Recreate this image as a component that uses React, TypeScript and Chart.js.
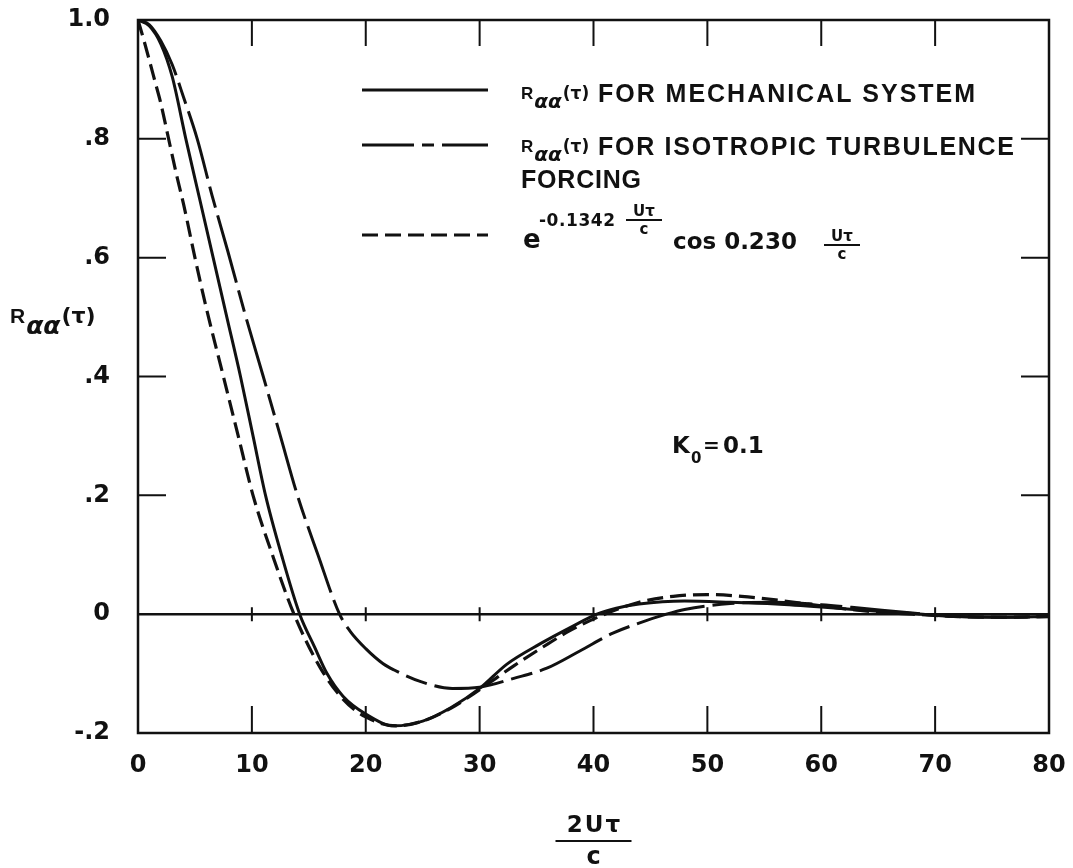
import React, { useEffect, useRef } from "react";
import { Chart, registerables } from "chart.js";

Chart.register(...registerables);

// ---- data ----
const X_TICKS = [0, 10, 20, 30, 40, 50, 60, 70, 80];
const Y_TICKS = [-0.2, 0, 0.2, 0.4, 0.6, 0.8, 1.0];
const Y_TICK_LABELS = ["-.2", "0", ".2", ".4", ".6", ".8", "1.0"];

// R_aa(tau) for mechanical system (solid)
const mechX = [0, 1, 2, 3, 4.2, 5.4, 6.6, 7.8, 9.0, 10.1, 11.2, 12.6, 14.2, 15.5, 16.6, 18, 20, 22.5, 25, 27.5, 30, 32.4, 35.3, 38.2, 40.3, 42, 44, 48, 52, 56, 60, 64, 68, 72, 76, 80];
const mechY = [1.0, 0.99, 0.96, 0.905, 0.8, 0.7, 0.6, 0.5, 0.4, 0.3, 0.2, 0.1, 0.0, -0.055, -0.1, -0.138, -0.168, -0.188, -0.18, -0.157, -0.125, -0.084, -0.05, -0.02, 0.0, 0.01, 0.017, 0.022, 0.02, 0.017, 0.012, 0.006, 0.001, -0.004, -0.005, -0.004];

// R_aa(tau) for isotropic turbulence forcing (long dash)
const isoX = [0, 1, 2, 3, 4, 5.2, 6.5, 7.9, 9.4, 11, 12.5, 14, 15.8, 17.7, 18.6, 20, 21.5, 22.5, 24.9, 27.6, 30, 33, 35.9, 38.8, 41.7, 44, 46.4, 48, 52, 56, 60, 64, 68, 72, 76, 80];
const isoY = [1.0, 0.992, 0.965, 0.925, 0.87, 0.8, 0.705, 0.61, 0.505, 0.4, 0.3, 0.2, 0.1, 0.0, -0.028, -0.058, -0.083, -0.094, -0.114, -0.125, -0.123, -0.108, -0.091, -0.062, -0.032, -0.015, 0.0, 0.008, 0.018, 0.02, 0.016, 0.009, 0.002, -0.004, -0.005, -0.004];

// exponential-cosine fit (short dash)
const fitX = [0, 0.5, 1, 1.5, 2, 2.8, 3.5, 4, 5, 6, 7.5, 8.8, 10.1, 11.8, 13.7, 16, 18, 20, 22.7, 25, 27.5, 30, 33, 36, 38, 41, 44, 47, 50, 53, 56, 60, 64, 68, 72, 76, 80];
const fitY = [1.0, 0.967, 0.932, 0.896, 0.86, 0.79, 0.73, 0.69, 0.6, 0.515, 0.4, 0.3, 0.2, 0.1, 0.0, -0.09, -0.143, -0.173, -0.188, -0.18, -0.158, -0.127, -0.087, -0.05, -0.027, 0.0, 0.02, 0.03, 0.033, 0.03, 0.024, 0.014, 0.005, 0.0, -0.004, -0.005, -0.004];

const LEGEND_MECH = "FOR MECHANICAL SYSTEM";
const LEGEND_ISO_1 = "FOR ISOTROPIC TURBULENCE";
const LEGEND_ISO_2 = "FORCING";
const FIT_EXP = "-0.1342";
const FIT_COS = "cos 0.230";
const ANNOT_K = "K";
const ANNOT_SUB = "0";
const ANNOT_EQ = "=";
const ANNOT_VAL = "0.1";

const INK = "#111";
const FONT = '"DejaVu Sans"';
const LFONT = '"Liberation Sans"';
const ISO_DASH = [70, 8, 22, 8];
const FIT_DASH = [16, 7];

const toPts = (xs: number[], ys: number[]) => xs.map((x, i) => ({ x, y: ys[i] }));

function fillFit(ctx: any, text: string, x: number, y: number, width: number) {
  ctx.letterSpacing = "0px";
  const w = ctx.measureText(text).width;
  const ls = (width - w) / Math.max(text.length - 1, 1);
  ctx.letterSpacing = `${ls}px`;
  ctx.fillText(text, x, y);
  ctx.letterSpacing = "0px";
}

// draws R with subscript alpha-alpha and (tau); rs/as/ts are font sizes
function drawRaa(ctx: CanvasRenderingContext2D, x: number, base: number, rs: number, as: number, ts: number) {
  let cx = x;
  ctx.textAlign = "left";
  ctx.font = `bold ${rs}px ${LFONT}`;
  ctx.fillText("R", cx, base - 3);
  cx += ctx.measureText("R").width + 1;
  ctx.font = `italic bold ${as}px ${FONT}`;
  ctx.fillText("αα", cx, base + as * 0.32);
  cx += ctx.measureText("αα").width + 1;
  ctx.font = `bold ${ts}px ${FONT}`;
  ctx.fillText("(τ)", cx, base - 3);
  cx += ctx.measureText("(τ)").width;
  return cx - x;
}

function drawFrac(ctx: CanvasRenderingContext2D, cx: number, barY: number, size: number, num: string, den: string, barW: number) {
  ctx.textAlign = "center";
  ctx.font = `bold ${size}px ${FONT}`;
  ctx.fillText(num, cx, barY - 4);
  ctx.fillText(den, cx, barY + size * 0.95);
  ctx.beginPath();
  ctx.lineWidth = 2;
  ctx.moveTo(cx - barW / 2, barY);
  ctx.lineTo(cx + barW / 2, barY);
  ctx.stroke();
  ctx.textAlign = "left";
}

const framePlugin = {
  id: "frame",
  beforeDatasetsDraw(chart: any) {
    const { ctx, chartArea: ca, scales } = chart;
    const xs = scales.x, ys = scales.y;
    ctx.save();
    ctx.strokeStyle = INK;
    ctx.setLineDash([]);
    const y0 = ys.getPixelForValue(0);
    ctx.lineWidth = 2.5;
    ctx.beginPath();
    ctx.moveTo(ca.left, y0);
    ctx.lineTo(ca.right, y0);
    ctx.stroke();
    ctx.lineWidth = 2;
    X_TICKS.forEach((v) => {
      if (v === X_TICKS[0] || v === X_TICKS[X_TICKS.length - 1]) return;
      const px = xs.getPixelForValue(v);
      ctx.beginPath();
      ctx.moveTo(px, ca.top); ctx.lineTo(px, ca.top + 26);
      ctx.moveTo(px, ca.bottom); ctx.lineTo(px, ca.bottom - 27);
      ctx.moveTo(px, y0 - 7); ctx.lineTo(px, y0 + 7);
      ctx.stroke();
    });
    Y_TICKS.forEach((v) => {
      if (v <= 0 || v >= 1) return;
      const py = ys.getPixelForValue(v);
      ctx.beginPath();
      ctx.moveTo(ca.left, py); ctx.lineTo(ca.left + 28, py);
      ctx.moveTo(ca.right, py); ctx.lineTo(ca.right - 28, py);
      ctx.stroke();
    });
    ctx.lineWidth = 2.5;
    ctx.strokeRect(ca.left, ca.top, ca.right - ca.left, ca.bottom - ca.top);
    ctx.restore();
  },
  afterDraw(chart: any) {
    const { ctx } = chart;
    ctx.save();
    ctx.fillStyle = INK;
    ctx.strokeStyle = INK;
    ctx.textBaseline = "alphabetic";
    // legend samples
    const lx0 = 362, lx1 = 488, tx = 521, fx = 598;
    const rows = [90, 145, 235];
    const sampleDash = [[], [52, 8, 12, 8, 60], FIT_DASH];
    rows.forEach((ry, i) => {
      ctx.beginPath();
      ctx.lineWidth = 3;
      ctx.setLineDash(sampleDash[i]);
      ctx.moveTo(lx0, ry);
      ctx.lineTo(lx1, ry);
      ctx.stroke();
    });
    ctx.setLineDash([]);
    // row 1
    drawRaa(ctx, tx, 102, 17, 20, 17);
    ctx.font = `bold 25px ${LFONT}`;
    fillFit(ctx, LEGEND_MECH, fx, 102, 377);
    // row 2
    drawRaa(ctx, tx, 155, 17, 20, 17);
    ctx.font = `bold 25px ${LFONT}`;
    fillFit(ctx, LEGEND_ISO_1, fx, 155, 416);
    fillFit(ctx, LEGEND_ISO_2, tx, 188, 120);
    // row 3 formula
    ctx.font = `bold 26px ${FONT}`;
    ctx.fillText("e", tx + 2, 248);
    ctx.font = `bold 17px ${FONT}`;
    fillFit(ctx, FIT_EXP, tx + 18, 226, 76);
    drawFrac(ctx, 644, 220, 15, "Uτ", "c", 36);
    ctx.font = `bold 23px ${FONT}`;
    ctx.fillText(FIT_COS, 673, 249);
    drawFrac(ctx, 842, 245, 15, "Uτ", "c", 36);
    // y axis title
    drawRaa(ctx, 10, 326, 21, 25, 22);
    // annotation K0 = 0.1
    ctx.font = `bold 23px ${FONT}`;
    ctx.fillText(ANNOT_K, 672, 453);
    ctx.font = `bold 15px ${FONT}`;
    ctx.fillText(ANNOT_SUB, 691, 463);
    ctx.font = `bold 20px ${FONT}`;
    ctx.fillText(ANNOT_EQ, 703, 452);
    ctx.font = `bold 23px ${FONT}`;
    ctx.fillText(ANNOT_VAL, 723, 453);
    // x axis title
    const xc = chart.scales.x.getPixelForValue(40);
    ctx.textAlign = "center";
    ctx.font = `bold 23px ${FONT}`;
    (ctx as any).letterSpacing = "2px";
    ctx.fillText("2Uτ", xc + 1, 832);
    (ctx as any).letterSpacing = "0px";
    ctx.beginPath();
    ctx.lineWidth = 2;
    ctx.moveTo(xc - 38, 841);
    ctx.lineTo(xc + 38, 841);
    ctx.stroke();
    ctx.font = `bold 24px ${FONT}`;
    ctx.fillText("c", xc, 864);
    ctx.restore();
  },
};

export default function App() {
  const ref = useRef<HTMLCanvasElement | null>(null);
  useEffect(() => {
    document.body.style.margin = "0";
    document.body.style.background = "#fff";
    const canvas = ref.current!;
    const chart = new Chart(canvas, {
      type: "line",
      data: {
        datasets: [
          { label: "mech", data: toPts(mechX, mechY), borderColor: INK, borderWidth: 3, borderDash: [] },
          { label: "iso", data: toPts(isoX, isoY), borderColor: INK, borderWidth: 3, borderDash: ISO_DASH },
          { label: "fit", data: toPts(fitX, fitY), borderColor: INK, borderWidth: 3.2, borderDash: FIT_DASH },
        ],
      },
      options: {
        responsive: false,
        animation: false,
        devicePixelRatio: 1,
        layout: { padding: { top: 20, right: 24, left: 0, bottom: 0 } },
        elements: { point: { radius: 0 }, line: { cubicInterpolationMode: "monotone", fill: false } },
        plugins: { legend: { display: false }, tooltip: { enabled: false } },
        scales: {
          x: {
            type: "linear",
            min: 0,
            max: 80,
            afterFit: (s: any) => { s.height = 135; s.paddingLeft = 0; s.paddingRight = 0; s.paddingTop = 0; s.paddingBottom = 0; },
            afterBuildTicks: (s: any) => { s.ticks = X_TICKS.map((v) => ({ value: v })); },
            grid: { display: false, drawTicks: false },
            border: { display: false },
            ticks: { padding: 18, color: INK, font: { family: "DejaVu Sans", size: 24, weight: "bold" }, maxRotation: 0, autoSkip: false },
          },
          y: {
            type: "linear",
            min: -0.2,
            max: 1.0,
            afterFit: (s: any) => { s.width = 138; s.paddingTop = 0; s.paddingBottom = 0; s.paddingLeft = 0; s.paddingRight = 0; },
            afterBuildTicks: (s: any) => { s.ticks = Y_TICKS.map((v) => ({ value: v })); },
            grid: { display: false, drawTicks: false },
            border: { display: false },
            ticks: {
              padding: 28,
              color: INK,
              font: { family: "DejaVu Sans", size: 24, weight: "bold" },
              autoSkip: false,
              callback: (v: any) => {
                const i = Y_TICKS.findIndex((t) => Math.abs(t - Number(v)) < 1e-6);
                return i >= 0 ? Y_TICK_LABELS[i] : "";
              },
            },
          },
        },
      } as any,
      plugins: [framePlugin],
    });
    return () => chart.destroy();
  }, []);
  return <canvas ref={ref} width={1073} height={868} style={{ display: "block" }} />;
}
